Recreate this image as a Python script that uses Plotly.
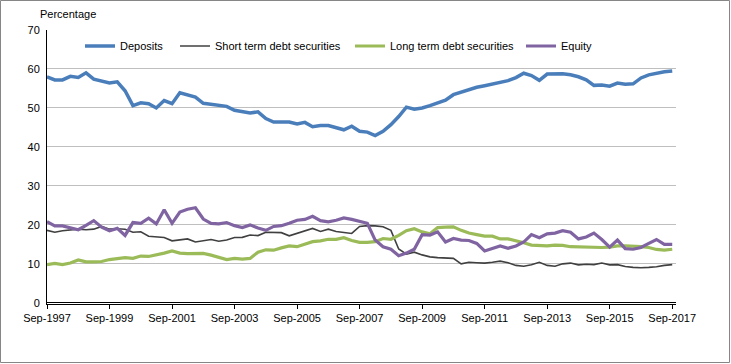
"""Deposits vs debt securities vs equity, share of funding (percentage), quarterly 1997-2017."""

import pandas as pd
import plotly.graph_objects as go

# quarterly, Sep-1997 .. Sep-2017
quarters = pd.date_range("1997-09-01", "2017-09-01", freq="3MS")

deposits = [58.0, 57.2, 57.2, 58.1, 57.8, 59.0, 57.4, 56.8, 56.4, 56.7,
            54.4, 50.6, 51.3, 51.1, 50.0, 51.9, 51.1, 53.9, 53.3, 52.8,
            51.2, 50.9, 50.7, 50.4, 49.4, 49.0, 48.7, 49.0, 47.3, 46.4,
            46.4, 46.4, 45.9, 46.3, 45.2, 45.5, 45.5, 45.0, 44.4, 45.3,
            44.0, 43.8, 42.9, 44.0, 45.7, 47.8, 50.2, 49.7, 50.0, 50.6,
            51.2, 52.0, 53.4, 54.0, 54.8, 55.3, 55.7, 56.2, 56.5, 57.0,
            57.8, 58.9, 58.3, 57.1, 58.7, 58.8, 58.8, 58.5, 58.0, 57.2,
            55.8, 55.9, 55.6, 56.4, 56.1, 56.2, 57.7, 58.5, 59.0, 59.3,
            59.5]

short_term = [18.6, 18.1, 18.5, 18.75, 18.9, 18.75, 18.9, 19.6, 18.9, 19.0,
              18.9, 18.1, 18.25, 17.1, 17.0, 16.75, 15.9, 16.1, 16.4, 15.6,
              16.0, 16.25, 15.8, 16.1, 16.75, 16.8, 17.4, 17.25, 18.1, 18.1,
              18.0, 17.2, 17.9, 18.6, 19.1, 18.3, 18.9, 18.3, 18.0, 17.8,
              19.6, 19.8, 19.75, 19.5, 18.6, 13.8, 12.5, 13.0, 12.3, 11.8,
              11.6, 11.5, 11.4, 10.0, 10.4, 10.3, 10.2, 10.4, 10.7, 10.3,
              9.6, 9.4, 9.75, 10.4, 9.6, 9.4, 10.0, 10.2, 9.75, 9.9,
              9.8, 10.2, 9.75, 9.8, 9.3, 9.1, 9.0, 9.1, 9.25, 9.6,
              9.8]

long_term = [9.8, 10.1, 9.8, 10.2, 11.0, 10.5, 10.5, 10.6, 11.1, 11.25,
             11.6, 11.4, 12.0, 11.9, 12.25, 12.75, 13.3, 12.75, 12.6, 12.6,
             12.7, 12.25, 11.75, 11.1, 11.4, 11.2, 11.4, 13.0, 13.6, 13.5,
             14.1, 14.6, 14.4, 15.0, 15.7, 15.9, 16.3, 16.3, 16.7, 16.0,
             15.5, 15.5, 15.7, 16.5, 16.3, 17.3, 18.5, 19.0, 18.2, 17.7,
             19.3, 19.4, 19.5, 18.6, 17.9, 17.5, 17.1, 17.1, 16.4, 16.4,
             16.0, 15.4, 14.8, 14.6, 14.6, 14.8, 14.75, 14.4, 14.3, 14.3,
             14.2, 14.2, 14.3, 14.6, 14.6, 14.6, 14.4, 14.2, 13.7, 13.5,
             13.75]

equity = [20.8, 19.75, 19.75, 19.25, 18.75, 19.9, 21.1, 19.4, 18.5, 19.1,
          17.3, 20.6, 20.4, 21.7, 20.25, 23.9, 20.4, 23.3, 24.0, 24.4,
          21.5, 20.4, 20.25, 20.6, 19.8, 19.3, 20.0, 19.2, 18.6, 19.6,
          19.8, 20.4, 21.2, 21.4, 22.2, 21.1, 20.8, 21.2, 21.8, 21.4,
          20.8, 20.4, 16.1, 14.4, 13.75, 12.1, 12.75, 13.75, 17.5, 17.4,
          18.2, 15.6, 16.5, 16.1, 16.0, 15.25, 13.3, 14.0, 14.6, 14.0,
          14.6, 15.6, 17.5, 16.7, 17.7, 17.9, 18.5, 18.1, 16.4, 16.9,
          17.9, 16.25, 14.3, 16.1, 13.9, 13.75, 14.2, 15.25, 16.25, 15.0,
          15.0]

tick_dates = pd.date_range("1997-09-01", "2017-09-01", freq="24MS")
tick_labels = [d.strftime("%b-%Y") for d in tick_dates]

FONT = "Liberation Sans, Arial, sans-serif"

series = [
    ("Deposits", deposits, "#4A7EBB", 3.5, "legend"),
    ("Short term debt securities", short_term, "#404040", 1.6, "legend2"),
    ("Long term debt securities", long_term, "#9BBB59", 3.2, "legend3"),
    ("Equity", equity, "#8064A2", 3.2, "legend4"),
]

fig = go.Figure()
for name, vals, col, w, lg in series:
    fig.add_trace(go.Scatter(x=quarters, y=vals, mode="lines", name=name,
                             line=dict(color=col, width=w), legend=lg))

W, H = 731, 364
L, R, T, B = 47, 55, 30, 60
pw, ph = W - L - R, H - T - B


def legend_at(px_left):
    # one legend per series so each entry sits where the original has it
    return dict(x=(px_left - L) / pw, y=(H - B - 46) / ph,
                xanchor="left", yanchor="middle", orientation="h",
                bgcolor="rgba(0,0,0,0)", font=dict(family=FONT, size=11, color="black"),
                itemwidth=30, tracegroupgap=0)


fig.update_layout(
    width=W, height=H,
    margin=dict(l=L, r=R, t=T, b=B),
    paper_bgcolor="white", plot_bgcolor="white",
    font=dict(family=FONT, size=11, color="black"),
    showlegend=True,
    legend=legend_at(80),
    legend2=legend_at(175),
    legend3=legend_at(350),
    legend4=legend_at(521),
    xaxis=dict(
        range=[pd.Timestamp("1997-09-01"), pd.Timestamp("2017-10-15")],
        tickvals=tick_dates, ticktext=tick_labels,
        showgrid=False, zeroline=False,
        showline=True, linecolor="black", linewidth=1,
        ticks="outside", ticklen=4, tickcolor="black",
        tickfont=dict(family=FONT, size=11),
    ),
    yaxis=dict(
        range=[-0.3, 70], dtick=10, tick0=0,
        showgrid=True, gridcolor="#BFBFBF", gridwidth=1,
        zeroline=True, zerolinecolor="black", zerolinewidth=1,
        showline=True, linecolor="black", linewidth=1,
        ticks="", ticklabelstandoff=4,
        tickfont=dict(family=FONT, size=11),
    ),
    annotations=[dict(text="Percentage", xref="paper", yref="paper",
                      x=(38 - L) / pw, y=(H - B - 14) / ph, xanchor="left",
                      yanchor="middle", showarrow=False,
                      font=dict(family=FONT, size=11, color="black"))],
    shapes=[dict(type="rect", xref="paper", yref="paper",
                 x0=(0.5 - L) / pw, x1=(W - 1.5 - L) / pw,
                 y0=(H - B - (H - 1.5)) / ph, y1=(H - B - 0.5) / ph,
                 line=dict(color="#868686", width=1), layer="below")],
)

# the page body has a default 8px margin; drop it so the chart sits at 0,0
fig.write_html("out.html", config={"displayModeBar": False},
               post_script="document.body.style.margin='0';")
